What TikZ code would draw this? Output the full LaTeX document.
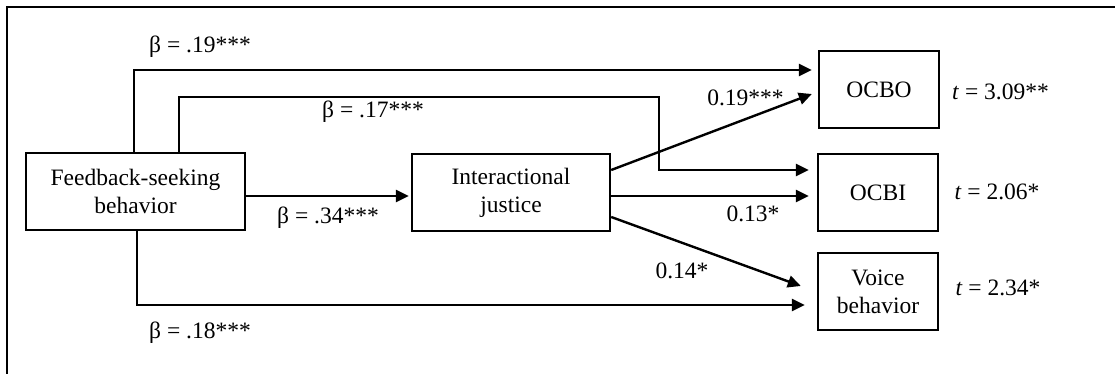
\documentclass[tikz,border=0pt]{standalone}
\usepackage{fontspec}
\setmainfont{Liberation Serif}
\usetikzlibrary{arrows.meta, positioning}

\begin{document}
\begin{tikzpicture}
        [x=1pt, y=-1pt,
        font=\fontsize{23.5}{28}\selectfont,
        block/.style ={rectangle, draw, line width=2.4pt,
        align=center, inner sep=0pt,
        minimum width=120pt, minimum height=77pt},
        line/.style ={draw, line width=2.4pt,-{Triangle[length=13pt,width=12pt]}},
        coef/.style ={inner sep=0pt}]
        \useasboundingbox (0,0) rectangle (1115,374);
        \draw [line width=2.4pt] (7,7) rectangle (1130,390);
        % predictor and mediator
        \node [block, minimum width=219pt] (fsb) at (135.5,191.5) {Feedback-seeking\\behavior};
        \node [block, minimum width=198pt] (ij) at (511,192.5) {Interactional\\justice};
        % outcomes
        \node [block] (ocbo) at (879,89.5) {OCBO};
        \node [block] (ocbi) at (878,192.5) {OCBI};
        \node [block] (voice) at (878,291.5) {Voice\\behavior};
        % t values
        \node [coef] (tocbo) at (1000.5,92) {\textit{t} = 3.09**};
        \node [coef] (tocbi) at (997,192) {\textit{t} = 2.06*};
        \node [coef] (tvoice) at (998,288) {\textit{t} = 2.34*};
        \coordinate (bend) at (659,97);
        \begin{scope}[every path/.style=line]
            \path ([xshift=-1.5pt]fsb.north) |- ([xshift=-6pt,yshift=19.5pt]ocbo.west);
            \path ([xshift=43.5pt]fsb.north) |- (bend) |- ([xshift=-8pt,yshift=22.5pt]ocbi.west);
            \path ([yshift=-4.5pt]fsb.east) -- ([xshift=-2pt,yshift=-3.5pt]ij.west);
            \path ([xshift=1.5pt]fsb.south) |- ([xshift=-12pt,yshift=-13.5pt]voice.west);
            \path ([yshift=22.5pt]ij.east) -- ([xshift=-6pt,yshift=-4.5pt]ocbo.west);
            \path ([yshift=-3.5pt]ij.east) -- ([xshift=-8pt,yshift=-3.5pt]ocbi.west);
            \path ([yshift=-24.5pt]ij.east) -- ([xshift=-16pt,yshift=5.5pt]voice.west);
        \end{scope}
        % path coefficients
        \node [coef] (b19) at (200,47) {β = .19***};
        \node [coef] (b17) at (373,112) {β = .17***};
        \node [coef] (b34) at (328,218) {β = .34***};
        \node [coef] (b18) at (200,333) {β = .18***};
        \node [coef] (c19) at (745.5,98) {0.19***};
        \node [coef] (c13) at (753,214) {0.13*};
        \node [coef] (c14) at (682,271) {0.14*};
    \end{tikzpicture}
\end{document}
